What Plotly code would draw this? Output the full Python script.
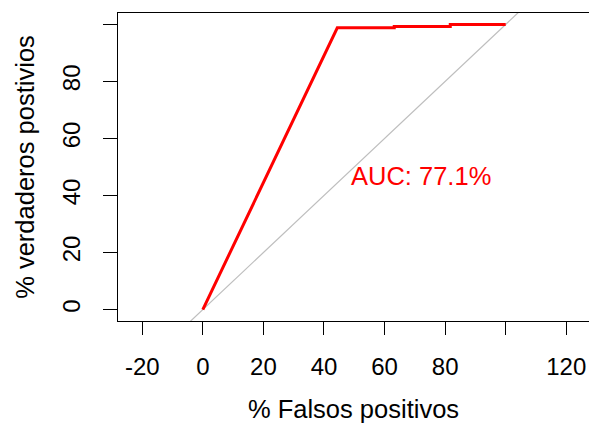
import plotly.graph_objects as go

# ROC curve (percent)
fpr = [0, 44.4, 63.2, 63.2, 81.7, 81.7, 100]
tpr = [0, 98.8, 98.8, 99.3, 99.3, 100, 100]
diag = [-50, 150]
auc_label = "AUC: 77.1%"
xticks = [-20, 0, 20, 40, 60, 80, 100, 120]
xticktext = ["-20", "0", "20", "40", "60", "80", "", "120"]
yticks = [0, 20, 40, 60, 80, 100]
yticktext = ["0", "20", "40", "60", "80", ""]

FONT = "Liberation Sans, Arial, sans-serif"

fig = go.Figure()
fig.add_trace(go.Scatter(x=diag, y=diag, mode="lines",
                         line=dict(color="#BEBEBE", width=1.2), hoverinfo="skip"))
fig.add_trace(go.Scatter(x=fpr, y=tpr, mode="lines",
                         line=dict(color="#FF0000", width=3)))
fig.add_annotation(x=50, y=50, xref="x", yref="y", text=auc_label,
                   showarrow=False, xanchor="left", yanchor="top",
                   xshift=-5, yshift=7,
                   font=dict(family=FONT, size=25.5, color="#FF0000"))

fig.update_layout(
    width=589, height=426,
    margin=dict(l=118, r=0, t=13, b=105),
    paper_bgcolor="white", plot_bgcolor="white",
    showlegend=False,
    font=dict(family=FONT, size=24, color="black"),
)
fig.update_xaxes(range=[-28, 127.5], tickvals=xticks, ticktext=xticktext,
                 automargin=False,
                 showgrid=False, zeroline=False, showline=True, mirror=True,
                 linecolor="black", linewidth=1, ticks="outside", ticklen=13,
                 tickcolor="black", tickwidth=1, ticklabelstandoff=11,
                 tickfont=dict(size=24),
                 title=dict(text="% Falsos positivos", font=dict(size=25.5), standoff=21))
fig.update_yaxes(range=[-4, 104], tickvals=yticks, ticktext=yticktext,
                 automargin=False,
                 showgrid=False, zeroline=False, showline=True, mirror=False,
                 linecolor="black", linewidth=1, ticks="outside", ticklen=14,
                 tickcolor="black", tickwidth=1, tickangle=-90, ticklabelstandoff=13,
                 tickfont=dict(size=24),
                 title=dict(text="% verdaderos postivios", font=dict(size=25.5), standoff=16))

fig.write_html("out.html", config={"displayModeBar": False},
               post_script="document.body.style.margin='0';document.body.style.overflow='hidden';")
